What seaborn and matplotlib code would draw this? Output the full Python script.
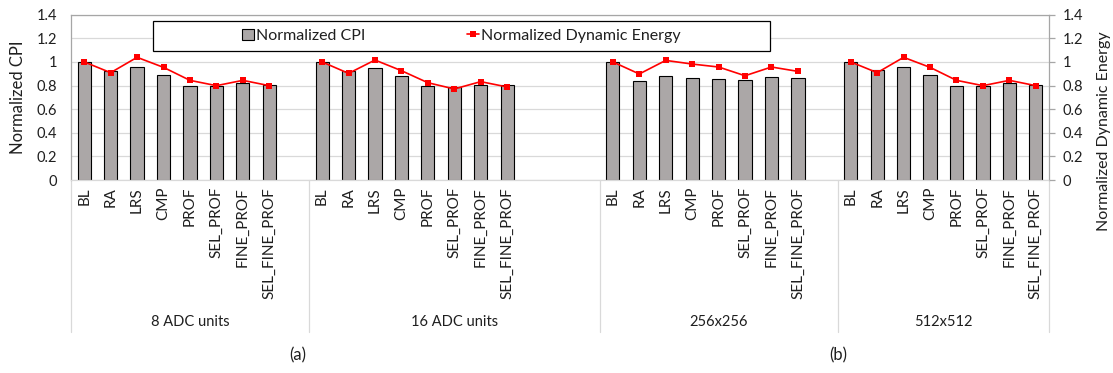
import matplotlib
matplotlib.use("Agg")
import matplotlib.pyplot as plt
from matplotlib.patches import Patch, Rectangle
from matplotlib.lines import Line2D
import matplotlib.transforms as mtransforms
import numpy as np
import pandas as pd
import seaborn as sns

# ---- data ----
schemes = ["BL", "RA", "LRS", "CMP", "PROF", "SEL_PROF", "FINE_PROF", "SEL_FINE_PROF"]
configs = ["8 ADC units", "16 ADC units", "256x256", "512x512"]

cpi_8adc = [1.00, 0.926, 0.954, 0.886, 0.796, 0.793, 0.818, 0.807]
cpi_16adc = [1.00, 0.926, 0.948, 0.881, 0.793, 0.785, 0.804, 0.802]
cpi_256 = [1.00, 0.841, 0.878, 0.866, 0.852, 0.844, 0.872, 0.861]
cpi_512 = [1.00, 0.929, 0.954, 0.886, 0.796, 0.793, 0.818, 0.807]

energy_8adc = [1.00, 0.909, 1.039, 0.954, 0.844, 0.799, 0.844, 0.799]
energy_16adc = [1.00, 0.903, 1.016, 0.926, 0.824, 0.771, 0.833, 0.788]
energy_256 = [1.00, 0.898, 1.013, 0.982, 0.957, 0.883, 0.957, 0.920]
energy_512 = [1.00, 0.909, 1.039, 0.954, 0.844, 0.799, 0.844, 0.799]

y_tick_labels = ["0", "0.2", "0.4", "0.6", "0.8", "1", "1.2", "1.4"]
panel_labels = ["(a)", "(b)"]

cpi_all = [cpi_8adc, cpi_16adc, cpi_256, cpi_512]
energy_all = [energy_8adc, energy_16adc, energy_256, energy_512]

# category-axis layout: each configuration starts at a slot, blank slots separate groups
group_start = [0, 9, 20, 29]
group_end = [9, 20, 29, 37]
n_slots = 37

rows = []
for g, cfg in enumerate(configs):
    for i, s in enumerate(schemes):
        rows.append({"config": cfg, "scheme": s, "slot": group_start[g] + i,
                     "cpi": cpi_all[g][i], "energy": energy_all[g][i]})
df = pd.DataFrame(rows)

# ---- styling ----
sns.set_theme(style="white")
plt.rcParams["font.family"] = ["Lato", "DejaVu Sans"]
TXT = "#1F1F1F"
plt.rcParams["text.color"] = TXT
plt.rcParams["xtick.color"] = TXT
plt.rcParams["ytick.color"] = TXT

W, H = 1113, 373
fig = plt.figure(figsize=(W / 100, H / 100), dpi=100)
x0, x1, y_top, y_bot = 71, 1049, 14.7, 180
ax = fig.add_axes([x0 / W, 1 - y_bot / H, (x1 - x0) / W, (y_bot - y_top) / H])

bar_color = "#ABA7A7"
grid_color = "#D9D9D9"
frame_color = "#A6A6A6"

sns.barplot(data=df, x="slot", y="cpi", order=list(range(n_slots)), color=bar_color,
            saturation=1, width=0.5, edgecolor="black", linewidth=0.8, ax=ax)

ax.set_ylim(0, 1.4)
yt = np.linspace(0, 1.4, 8)
ax.set_yticks(yt)
ax.set_yticklabels(y_tick_labels, fontsize=10.5)
ax.yaxis.grid(True, color=grid_color, linewidth=0.9)
ax.set_axisbelow(True)
ax.tick_params(axis="y", length=0, pad=10)

ax.set_xticks(df["slot"].tolist())
ax.set_xticklabels(df["scheme"].tolist(), rotation=90, fontsize=11)
ax.tick_params(axis="x", length=0, pad=5)
ax.set_xlabel("")
ax.set_ylabel("")

for side in ["top", "left", "right"]:
    ax.spines[side].set_color(frame_color)
    ax.spines[side].set_linewidth(0.9)
ax.spines["bottom"].set_color(grid_color)
ax.spines["bottom"].set_linewidth(0.9)

# secondary axis for energy
ax2 = ax.twinx()
sns.lineplot(data=df, x="slot", y="energy", units="config", estimator=None,
             color="#FF0000", marker="s", markersize=4.8, markeredgewidth=0,
             linewidth=1.2, ax=ax2, legend=False)
ax2.set_ylim(0, 1.4)
ax2.set_yticks(yt)
ax2.set_yticklabels(y_tick_labels, fontsize=10.5)
ax2.tick_params(axis="y", length=4, width=0.9, color=frame_color, pad=6, direction="out")
ax2.set_ylabel("")
ax2.set_xlabel("")
for side in ["top", "left", "right", "bottom"]:
    ax2.spines[side].set_visible(False)
ax.set_xlim(-0.5, n_slots - 0.5)

# group separators and group names below the category labels
trans = mtransforms.blended_transform_factory(ax.transData, ax.transAxes)
sep_bottom = -(332 - y_bot) / (y_bot - y_top)
for b in [group_start[0]] + group_end:
    ax.plot([b - 0.5, b - 0.5], [0, sep_bottom], transform=trans, color=grid_color,
            linewidth=0.9, clip_on=False)
lab_y = -(322 - y_bot) / (y_bot - y_top)
for g, cfg in enumerate(configs):
    cx = (group_start[g] + group_end[g] - 1) / 2
    ax.text(cx, lab_y, cfg, transform=trans, ha="center", va="center", fontsize=10.5)

# legend inside a framed white box
bx0, bx1 = (153 - x0) / (x1 - x0), (770 - x0) / (x1 - x0)
by0, by1 = (y_bot - 51) / (y_bot - y_top), (y_bot - 21) / (y_bot - y_top)
ax2.add_patch(Rectangle((bx0, by0), bx1 - bx0, by1 - by0, transform=ax2.transAxes,
                        facecolor="white", edgecolor="black", linewidth=0.9, zorder=5))
handles = [Patch(facecolor=bar_color, edgecolor="black", linewidth=0.8),
           Line2D([], [], color="#FF0000", marker="s", markersize=4.8,
                  markeredgewidth=0, linewidth=1.2)]
leg = ax2.legend(handles, ["Normalized CPI", "Normalized Dynamic Energy"],
                 loc="center", bbox_to_anchor=((bx0 + bx1) / 2, (by0 + by1) / 2),
                 bbox_transform=ax2.transAxes, ncol=2, frameon=False, fontsize=11.5,
                 handlelength=0.75, handleheight=0.75, handletextpad=0.1,
                 columnspacing=6.4)
leg.set_zorder(6)

# axis titles and panel labels
fig.text(18 / W, 1 - 97 / H, "Normalized CPI", rotation=90, ha="center", va="center",
         fontsize=12)
fig.text(1104 / W, 1 - 131 / H, "Normalized Dynamic Energy", rotation=90,
         ha="center", va="center", fontsize=11.5)
fig.text(298 / W, 1 - 355 / H, panel_labels[0], ha="center", va="center", fontsize=12)
fig.text(838 / W, 1 - 355 / H, panel_labels[1], ha="center", va="center", fontsize=12)

fig.savefig("out.png", dpi=100, facecolor="white")
